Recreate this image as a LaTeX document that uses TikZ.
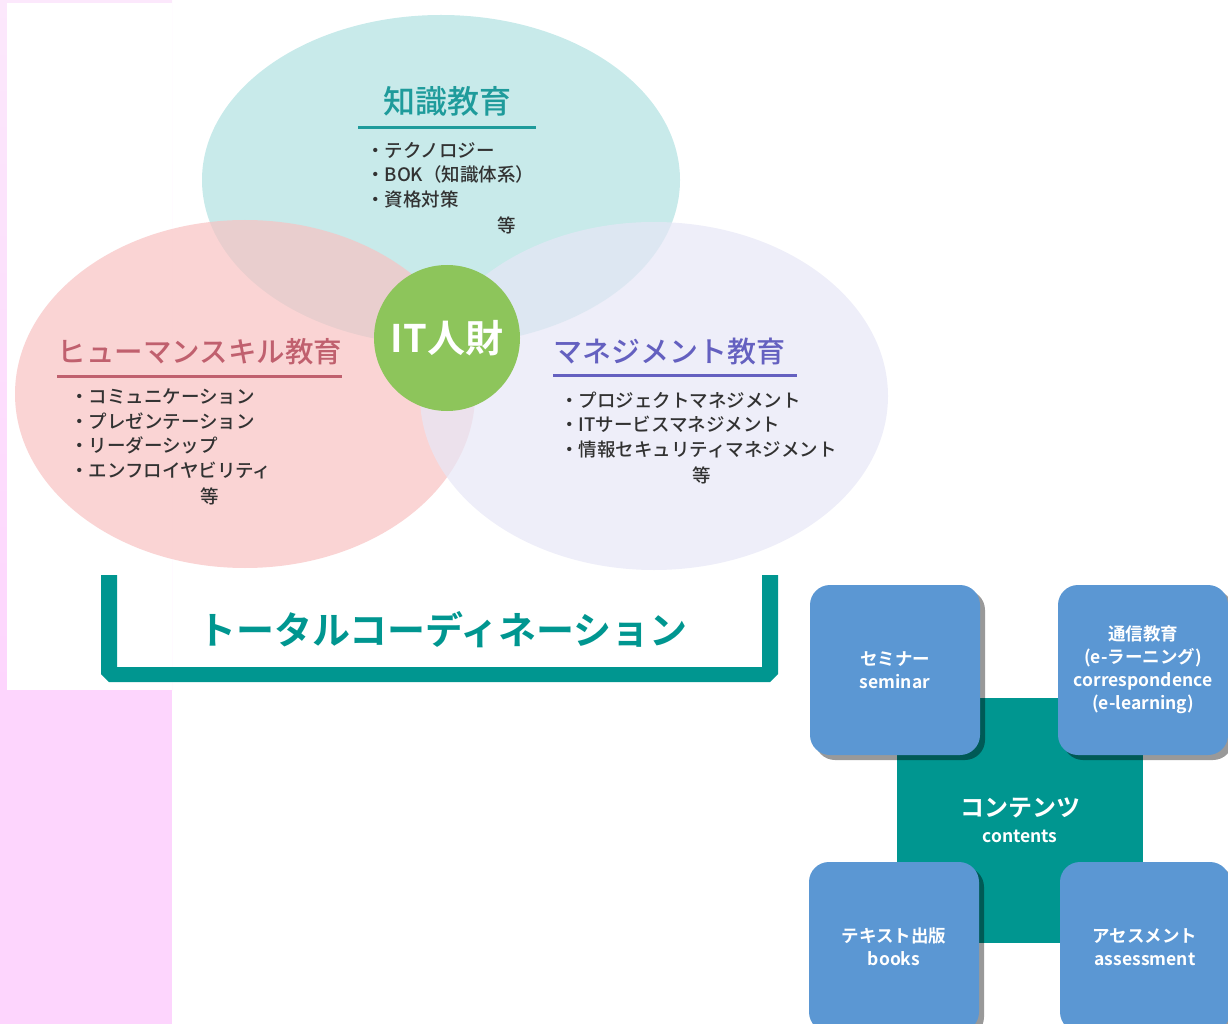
\documentclass[tikz,border=0pt]{standalone}
\usepackage{fontspec}
\newfontfamily\jp{Noto Sans CJK JP}[BoldFont={Noto Sans CJK JP Bold}]
\newfontfamily\jpmed{Noto Sans CJK JP Medium}
\usetikzlibrary{shapes.geometric,shadows}
\definecolor{kfill}{RGB}{176,225,225}
\definecolor{hfill}{RGB}{248,194,194}
\definecolor{mfill}{RGB}{231,231,246}
\definecolor{ktext}{RGB}{30,155,155}
\definecolor{htext}{RGB}{192,96,110}
\definecolor{mtext}{RGB}{100,96,192}
\definecolor{txtgray}{RGB}{50,50,50}
\definecolor{itgreen}{RGB}{141,197,91}
\definecolor{coteal}{RGB}{0,150,144}
\definecolor{boxblue}{RGB}{91,151,211}
\definecolor{pinklight}{RGB}{252,232,252}
\definecolor{pinkdark}{RGB}{253,213,253}

\begin{document}
\begin{tikzpicture}[x=1pt,y=-1pt,
    venn/.style={ellipse,inner sep=0pt,fill opacity=.7},
    title/.style={font=\jpmed\fontsize{#1}{#1}\selectfont,inner sep=0pt},
    items/.style={align=left,anchor=west,inner sep=0pt,text=txtgray,
      font=\jpmed\fontsize{18.5}{24.5}\selectfont},
    etc/.style={inner sep=0pt,text=txtgray,font=\jpmed\fontsize{18.5}{18.5}\selectfont},
    media/.style={rounded corners=20pt,fill=boxblue,minimum width=170pt,
      minimum height=170pt,inner sep=0pt,text=white,align=center,
      font=\jp\bfseries\fontsize{17.5}{23}\selectfont,
      drop shadow={shadow xshift=5pt,shadow yshift=-5pt,fill=black,opacity=.4}}]

  \useasboundingbox (0,0) rectangle (1228,1024);
  \clip (0,0) rectangle (1228,1024);

  \shade[top color=pinklight,bottom color=pinkdark] (0,0) rectangle (172,690);
  \fill[pinkdark] (0,690) rectangle (172,1024);
  \fill[white] (7,3) rectangle (172,690);

  \node[venn,fill=kfill,minimum width=478pt,minimum height=330pt] (know) at (441,180) {};
  \node[venn,fill=hfill,minimum width=460pt,minimum height=348pt] (human) at (245,394) {};
  \node[venn,fill=mfill,minimum width=468pt,minimum height=348pt] (manage) at (654,396) {};

  \node[title=32,text=ktext] (ktitle) at (447,101) {知識教育};
  \draw[ktext,line width=3pt] (358,128) -- (536,128);
  \node[items] (klist) at (366,175) {・テクノロジー\\・BOK（知識体系）\\・資格対策};
  \node[etc] (ketc) at (507,225) {等};

  \node[title=28.5,text=htext] (htitle) at (200,352) {ヒューマンスキル教育};
  \draw[htext,line width=3pt] (57,376) -- (342,376);
  \node[items] (hlist) at (70,434) {・コミュニケーション\\・プレゼンテーション\\・リーダーシップ\\・エンフロイヤビリティ};
  \node[etc] (hetc) at (210,496) {等};

  \node[title=29,text=mtext] (mtitle) at (669,352) {マネジメント教育};
  \draw[mtext,line width=3pt] (553,375) -- (797,375);
  \node[items] (mlist) at (560,425) {・プロジェクトマネジメント\\・ITサービスマネジメント\\・情報セキュリティマネジメント};
  \node[etc] (metc) at (702,475) {等};

  \node[circle,fill=itgreen,minimum size=146pt,inner sep=0pt,text=white,
    font=\jp\bfseries\fontsize{38}{38}\selectfont] (it) at (447,338) {IT人財};

  \fill[coteal] (101,575) -- (101,674) -- (109,682) -- (770,682) -- (778,674)
    -- (778,575) -- (762,575) -- (762,667) -- (117,667) -- (117,575) -- cycle;
  \node[text=coteal,font=\jp\bfseries\fontsize{38}{38}\selectfont] (total) at (443,630) {トータルコーディネーション};

  \node[fill=coteal,minimum width=246pt,minimum height=245pt,inner sep=0pt,
    text=white,align=center,font=\jp\bfseries\fontsize{17.5}{26}\selectfont]
    (contents) at (1020,820) {{\fontsize{24}{26}\selectfont コンテンツ}\\contents};

  \node[media] (seminar) at (895,670) {セミナー\\seminar};
  \node[media] (corresp) at (1143,670) {通信教育\\(e-ラーニング)\\correspondence\\(e-learning)};
  \node[media] (books) at (894,947) {テキスト出版\\books};
  \node[media] (assess) at (1145,947) {アセスメント\\assessment};
\end{tikzpicture}
\end{document}
